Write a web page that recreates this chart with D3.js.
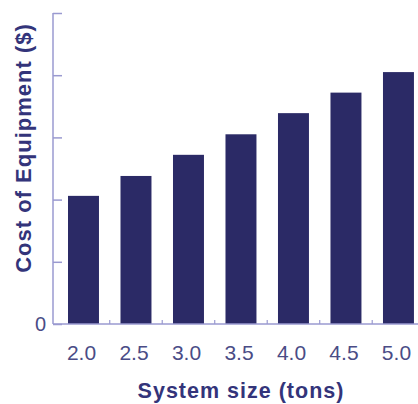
<!DOCTYPE html>
<html><head><meta charset="utf-8">
<script src="https://cdn.jsdelivr.net/npm/d3@7/dist/d3.min.js"></script>
<style>body{margin:0;background:#fff}svg{display:block}</style>
</head><body>
<svg id="c" width="418" height="404"></svg>
<script>
const categories = ["2.0","2.5","3.0","3.5","4.0","4.5","5.0"];
const costValues = [2.06, 2.38, 2.72, 3.05, 3.39, 3.72, 4.05];
const yTicks = [0,1,2,3,4,5];
const yTickLabels = ["0","","","","",""];

const svg = d3.select("#c");
const axisColor = "#9a9ad0";
const barColor = "#2b2a66";
const textColor = "#4a4c86";
const titleColor = "#33347a";
const font = "Liberation Sans, Arial, sans-serif";

const x = d3.scaleBand().domain(categories).range([52.25, 429.7]).paddingInner(0.41).paddingOuter(0.3);
const y = d3.scaleLinear().domain([0,5]).range([324, 13]);

// bars
svg.selectAll("rect.bar").data(categories).join("rect")
  .attr("class","bar")
  .attr("x", d => x(d))
  .attr("width", x.bandwidth())
  .attr("y", (d,i) => y(costValues[i]))
  .attr("height", (d,i) => y(0) - y(costValues[i]))
  .attr("fill", barColor);

// y axis
const yAxis = d3.axisRight(y).tickValues(yTicks).tickSize(9).tickFormat("");
const gy = svg.append("g").attr("transform","translate(53,0)").call(yAxis);
gy.select(".domain").remove();
gy.selectAll(".tick line").attr("stroke", axisColor).attr("stroke-width",1.5);
svg.append("line").attr("x1",53).attr("x2",53).attr("y1",y(5)).attr("y2",y(0))
  .attr("stroke",axisColor).attr("stroke-width",1.5);
svg.selectAll("text.ylab").data(yTicks).join("text")
  .attr("class","ylab")
  .attr("x",46).attr("y",d=>y(d)+7)
  .attr("text-anchor","end")
  .attr("font-family",font)
  .attr("font-size",20).attr("fill",textColor)
  .text((d,i)=>yTickLabels[i]);

// x axis baseline
svg.append("line").attr("x1",53).attr("x2",418).attr("y1",y(0)).attr("y2",y(0))
  .attr("stroke",axisColor).attr("stroke-width",1.5);
// minor ticks between bars
const mids = categories.slice(1).map(c => x(c) - x.step()*x.paddingInner()/2);
svg.selectAll("line.mt").data(mids).join("line")
  .attr("class","mt")
  .attr("x1",d=>d).attr("x2",d=>d).attr("y1",y(0)).attr("y2",y(0)-4)
  .attr("stroke",axisColor).attr("stroke-width",1.2);

// x tick labels
const xAxis = d3.axisBottom(x).tickSize(0).tickPadding(0);
const gx = svg.append("g").attr("transform",`translate(-2,${y(0)})`).call(xAxis);
gx.select(".domain").remove();
gx.selectAll(".tick text")
  .attr("dy", 0).attr("y", 36)
  .attr("font-family",font)
  .attr("font-size",21).attr("fill",textColor);

// axis titles
svg.append("text").attr("x",241).attr("y",398).attr("text-anchor","middle")
  .attr("font-family",font).attr("font-weight","bold")
  .attr("font-size",21.5).attr("letter-spacing",1).attr("fill",titleColor).text("System size (tons)");
svg.append("text").attr("transform","translate(31,148) rotate(-90)").attr("text-anchor","middle")
  .attr("font-family",font).attr("font-weight","bold")
  .attr("font-size",22).attr("letter-spacing",1).attr("fill",titleColor).text("Cost of Equipment ($)");
</script>
</body></html>
